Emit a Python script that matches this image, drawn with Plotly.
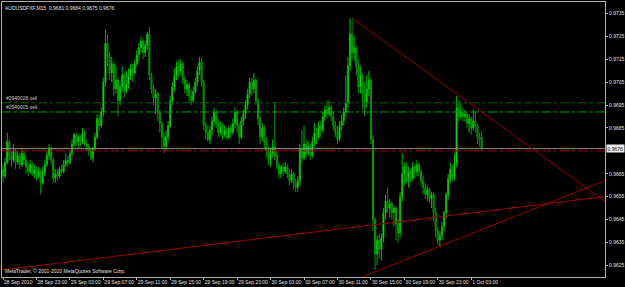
import numpy as np
import pandas as pd
import plotly.graph_objects as go

# ---- data (prices in pips, /10000) ----
start_time = "2010-09-28 19:00"
bar_freq = "15min"

opens = [9667,9664,9670,9679,9673,9671,9675,9670,9673,9669,9674,9671,9668,9666,9669,9665,9667,9664,9666,9661,
         9666,9669,9673,9676,9671,9663,9665,9664,9667,9666,9669,9671,9670,9674,9678,9682,9679,9681,9679,9683,
         9678,9677,9675,9672,9676,9681,9689,9686,9692,9705,9722,9716,9709,9713,9702,9706,9697,9703,9708,9701,
         9704,9708,9711,9709,9713,9717,9720,9723,9718,9721,9726,9708,9702,9698,9700,9692,9687,9681,9677,9681,
         9686,9697,9703,9708,9712,9710,9713,9706,9702,9704,9699,9697,9701,9705,9710,9714,9705,9686,9683,9680,
         9684,9688,9692,9687,9683,9686,9682,9684,9681,9685,9683,9687,9692,9686,9681,9688,9691,9695,9700,9705,
         9702,9706,9697,9689,9681,9685,9679,9675,9671,9674,9677,9673,9669,9665,9668,9666,9668,9665,9662,9665,
         9661,9659,9662,9676,9672,9678,9674,9677,9673,9679,9683,9681,9686,9684,9690,9693,9691,9694,9690,9686,
         9683,9680,9686,9688,9692,9696,9712,9726,9718,9720,9712,9703,9708,9700,9696,9702,9706,9680,9645,9630,
         9636,9632,9637,9648,9653,9650,9652,9648,9650,9643,9639,9655,9665,9668,9663,9666,9663,9668,9666,9669,
         9666,9662,9659,9656,9658,9654,9656,9648,9640,9636,9638,9642,9648,9656,9663,9667,9664,9670,9694,9690,
         9692,9690,9691,9687,9689,9685,9688,9686,9681,9681]
highs = [9669,9672,9683,9680,9675,9678,9676,9675,9674,9676,9675,9672,9670,9671,9670,9669,9668,9668,9667,9668,
         9671,9675,9678,9677,9672,9667,9667,9668,9669,9671,9674,9673,9675,9680,9683,9683,9682,9682,9685,9684,
         9680,9678,9676,9677,9683,9691,9691,9694,9707,9728,9726,9718,9716,9714,9712,9707,9705,9712,9709,9710,
         9711,9713,9713,9715,9719,9722,9725,9724,9723,9727,9729,9709,9704,9702,9701,9693,9688,9683,9684,9688,
         9699,9705,9711,9714,9715,9715,9714,9708,9706,9705,9702,9703,9707,9712,9716,9716,9706,9688,9686,9686,
         9690,9694,9693,9689,9688,9687,9686,9685,9686,9687,9689,9694,9693,9687,9690,9693,9697,9702,9707,9707,
         9709,9707,9698,9690,9687,9686,9681,9677,9676,9680,9696,9675,9670,9669,9670,9670,9669,9667,9667,9666,
         9663,9664,9678,9684,9686,9680,9679,9678,9681,9687,9685,9688,9688,9692,9695,9697,9697,9695,9692,9688,
         9686,9688,9691,9694,9708,9716,9733,9733,9725,9721,9715,9712,9709,9705,9708,9710,9707,9682,9646,9638,
         9639,9639,9650,9656,9659,9654,9653,9651,9651,9645,9657,9674,9670,9670,9668,9667,9670,9669,9671,9670,
         9667,9664,9661,9660,9659,9657,9657,9650,9642,9640,9644,9649,9657,9665,9670,9669,9674,9699,9697,9696,
         9694,9693,9692,9691,9690,9693,9692,9687,9683,9684]
lows  = [9661,9663,9669,9671,9668,9670,9667,9669,9667,9668,9669,9665,9664,9665,9664,9663,9662,9663,9656,9660,
         9664,9668,9671,9669,9661,9661,9662,9663,9665,9665,9668,9668,9669,9673,9677,9677,9676,9677,9678,9677,
         9675,9673,9671,9670,9675,9680,9684,9685,9690,9703,9712,9706,9705,9699,9700,9690,9695,9701,9698,9700,
         9702,9706,9705,9708,9712,9714,9718,9715,9716,9719,9706,9700,9695,9691,9688,9683,9676,9674,9675,9679,
         9685,9695,9701,9706,9707,9708,9704,9700,9699,9696,9695,9696,9700,9703,9708,9703,9684,9680,9679,9678,
         9682,9686,9685,9681,9682,9680,9681,9680,9680,9681,9682,9685,9683,9678,9680,9686,9689,9693,9698,9699,
         9700,9695,9686,9678,9679,9676,9672,9669,9668,9672,9671,9667,9663,9663,9664,9665,9663,9660,9661,9658,
         9657,9657,9660,9670,9671,9672,9673,9671,9672,9677,9678,9680,9681,9683,9688,9689,9690,9688,9684,9681,
         9678,9679,9684,9686,9690,9694,9710,9715,9714,9708,9700,9700,9693,9690,9694,9699,9678,9640,9623,9625,
         9628,9627,9635,9645,9648,9646,9645,9642,9636,9635,9637,9653,9660,9661,9659,9661,9662,9663,9664,9664,
         9660,9656,9654,9653,9652,9650,9644,9637,9634,9633,9636,9640,9646,9654,9661,9662,9662,9668,9688,9689,
         9688,9688,9685,9683,9682,9684,9683,9678,9677,9675]
closes = [9664,9670,9679,9673,9671,9675,9670,9673,9669,9674,9671,9668,9666,9669,9665,9667,9664,9666,9661,9666,
          9669,9673,9676,9671,9663,9665,9664,9667,9666,9669,9671,9670,9674,9678,9682,9679,9681,9679,9683,9678,
          9677,9675,9672,9676,9681,9689,9686,9692,9705,9722,9716,9709,9713,9702,9706,9697,9703,9708,9701,9704,
          9708,9711,9709,9713,9717,9720,9723,9718,9721,9726,9708,9702,9698,9700,9692,9687,9681,9677,9681,9686,
          9697,9703,9708,9712,9710,9713,9706,9702,9704,9699,9697,9701,9705,9710,9714,9705,9686,9683,9680,9684,
          9688,9692,9687,9683,9686,9682,9684,9681,9685,9683,9687,9692,9686,9681,9688,9691,9695,9700,9705,9702,
          9706,9697,9689,9681,9685,9679,9675,9671,9674,9677,9673,9669,9665,9668,9666,9668,9665,9662,9665,9661,
          9659,9662,9676,9672,9678,9674,9677,9673,9679,9683,9681,9686,9684,9690,9693,9691,9694,9690,9686,9683,
          9680,9686,9688,9692,9696,9712,9726,9718,9720,9712,9703,9708,9700,9696,9702,9706,9680,9645,9630,9636,
          9632,9637,9648,9653,9650,9652,9648,9650,9643,9639,9655,9665,9668,9663,9666,9663,9668,9666,9669,9666,
          9662,9659,9656,9658,9654,9656,9648,9640,9636,9638,9642,9648,9656,9663,9667,9664,9670,9694,9690,9692,
          9690,9691,9687,9689,9685,9688,9686,9681,9680,9676]

# order levels and price lines
order_labels = ["#2949028 sell", "#2949005 sell"]
order_levels = [9696, 9692]
bid_level = 9676
red_level = 9675

# trendlines: (time, price) anchors
trend1_t = ["2010-09-30 12:45", "2010-10-01 19:00"]
trend1_p = [9733, 9653]
trend2_t = ["2010-09-30 14:00", "2010-10-01 19:00"]
trend2_p = [9620, 9662]
trend3_t = ["2010-09-28 18:52:30", "2010-10-01 19:00"]
trend3_p = [9623, 9655]

x_tick_times = pd.date_range("2010-09-28 19:00", periods=15, freq="4h")
x_tick_text = ["28 Sep 2010", "28 Sep 23:00", "29 Sep 03:00", "29 Sep 07:00", "29 Sep 11:00",
               "29 Sep 15:00", "29 Sep 19:00", "29 Sep 23:00", "30 Sep 03:00", "30 Sep 07:00",
               "30 Sep 11:00", "30 Sep 15:00", "30 Sep 19:00", "30 Sep 23:00", "1 Oct 03:00"]
y_tick_vals = [9735, 9725, 9715, 9705, 9695, 9685, 9665, 9655, 9645, 9635, 9625]

header_text = "AUDUSDFXF,M15  0.9681 0.9684 0.9675 0.9676"
copyright_text = "MetaTrader, © 2001-2010 MetaQuotes Software Corp."

# ---- build ----
P = lambda a: np.array(a) / 10000.0
times = pd.date_range(start_time, periods=len(closes), freq=bar_freq)
FONT = "Liberation Sans"
FS = 5

fig = go.Figure()
fig.add_trace(go.Candlestick(
    x=times, open=P(opens), high=P(highs), low=P(lows), close=P(closes),
    increasing=dict(line=dict(color="#00B800", width=1), fillcolor="#8CFF8C"),
    decreasing=dict(line=dict(color="#009A00", width=1), fillcolor="#006E00"),
    whiskerwidth=0, showlegend=False, hoverinfo="skip"))

x0, x1 = "2010-09-28 18:52:30", "2010-10-01 19:00"

for lvl, col in zip(order_levels, ["#0F5F0F", "#00A000"]):
    fig.add_trace(go.Scatter(x=[x0, x1], y=P([lvl, lvl]), mode="lines",
                             line=dict(color=col, width=1, dash="dashdot"),
                             showlegend=False, hoverinfo="skip"))
fig.add_trace(go.Scatter(x=[x0, x1], y=P([bid_level, bid_level]), mode="lines",
                         line=dict(color="#8A8A8A", width=1), showlegend=False, hoverinfo="skip"))
fig.add_trace(go.Scatter(x=[x0, x1], y=P([red_level, red_level]), mode="lines",
                         line=dict(color="#A00000", width=1, dash="dashdot"),
                         showlegend=False, hoverinfo="skip"))
for tt, pp in [(trend1_t, trend1_p), (trend2_t, trend2_p), (trend3_t, trend3_p)]:
    fig.add_trace(go.Scatter(x=tt, y=P(pp), mode="lines",
                             line=dict(color="#9A0000", width=1),
                             showlegend=False, hoverinfo="skip"))

for lab, lvl in zip(order_labels, order_levels):
    fig.add_annotation(x=0, xref="paper", y=lvl / 10000.0, yref="y", text=lab,
                       showarrow=False, xanchor="left", yanchor="bottom", xshift=2, yshift=0,
                       font=dict(family=FONT, size=FS, color="#C8C8C8"))

fig.add_annotation(x=0, xref="paper", y=1, yref="paper", text=header_text, showarrow=False,
                   xanchor="left", yanchor="top", xshift=1, yshift=-1,
                   font=dict(family=FONT, size=FS, color="#E0E0E0"))
fig.add_annotation(x=0, xref="paper", y=0, yref="paper", text=copyright_text, showarrow=False,
                   xanchor="left", yanchor="bottom", xshift=1, yshift=1,
                   font=dict(family=FONT, size=FS, color="#E0E0E0"))
fig.add_annotation(x=1, xref="paper", y=bid_level / 10000.0, yref="y", text="0.9676",
                   showarrow=False, xanchor="left", yanchor="middle", xshift=1,
                   bgcolor="#F0F0F0", borderpad=0.5,
                   font=dict(family=FONT, size=FS, color="#000000"))

fig.update_layout(
    width=625, height=287,
    margin=dict(l=2, r=20, t=2, b=10, autoexpand=False),
    paper_bgcolor="#000000", plot_bgcolor="#000000",
    showlegend=False,
    xaxis=dict(type="date", range=[x0, x1], rangeslider=dict(visible=False),
               showgrid=False, zeroline=False, automargin=False,
               tickmode="array", tickvals=x_tick_times, ticktext=x_tick_text,
               tickangle=0,
               ticks="outside", ticklen=2, tickcolor="#B0B0B0",
               ticklabelposition="outside right",
               tickfont=dict(family=FONT, size=FS, color="#E0E0E0"),
               showline=True, linecolor="#B0B0B0", linewidth=1, mirror=True),
    yaxis=dict(range=[0.961993, 0.974002], side="right",
               showgrid=False, zeroline=False, automargin=False,
               tickmode="array", tickvals=P(y_tick_vals),
               ticktext=["%.4f" % v for v in P(y_tick_vals)],
               ticks="outside", ticklen=2, tickcolor="#B0B0B0",
               tickfont=dict(family=FONT, size=FS, color="#E0E0E0"),
               showline=True, linecolor="#B0B0B0", linewidth=1, mirror=True),
)

fig.write_html("out.html")
